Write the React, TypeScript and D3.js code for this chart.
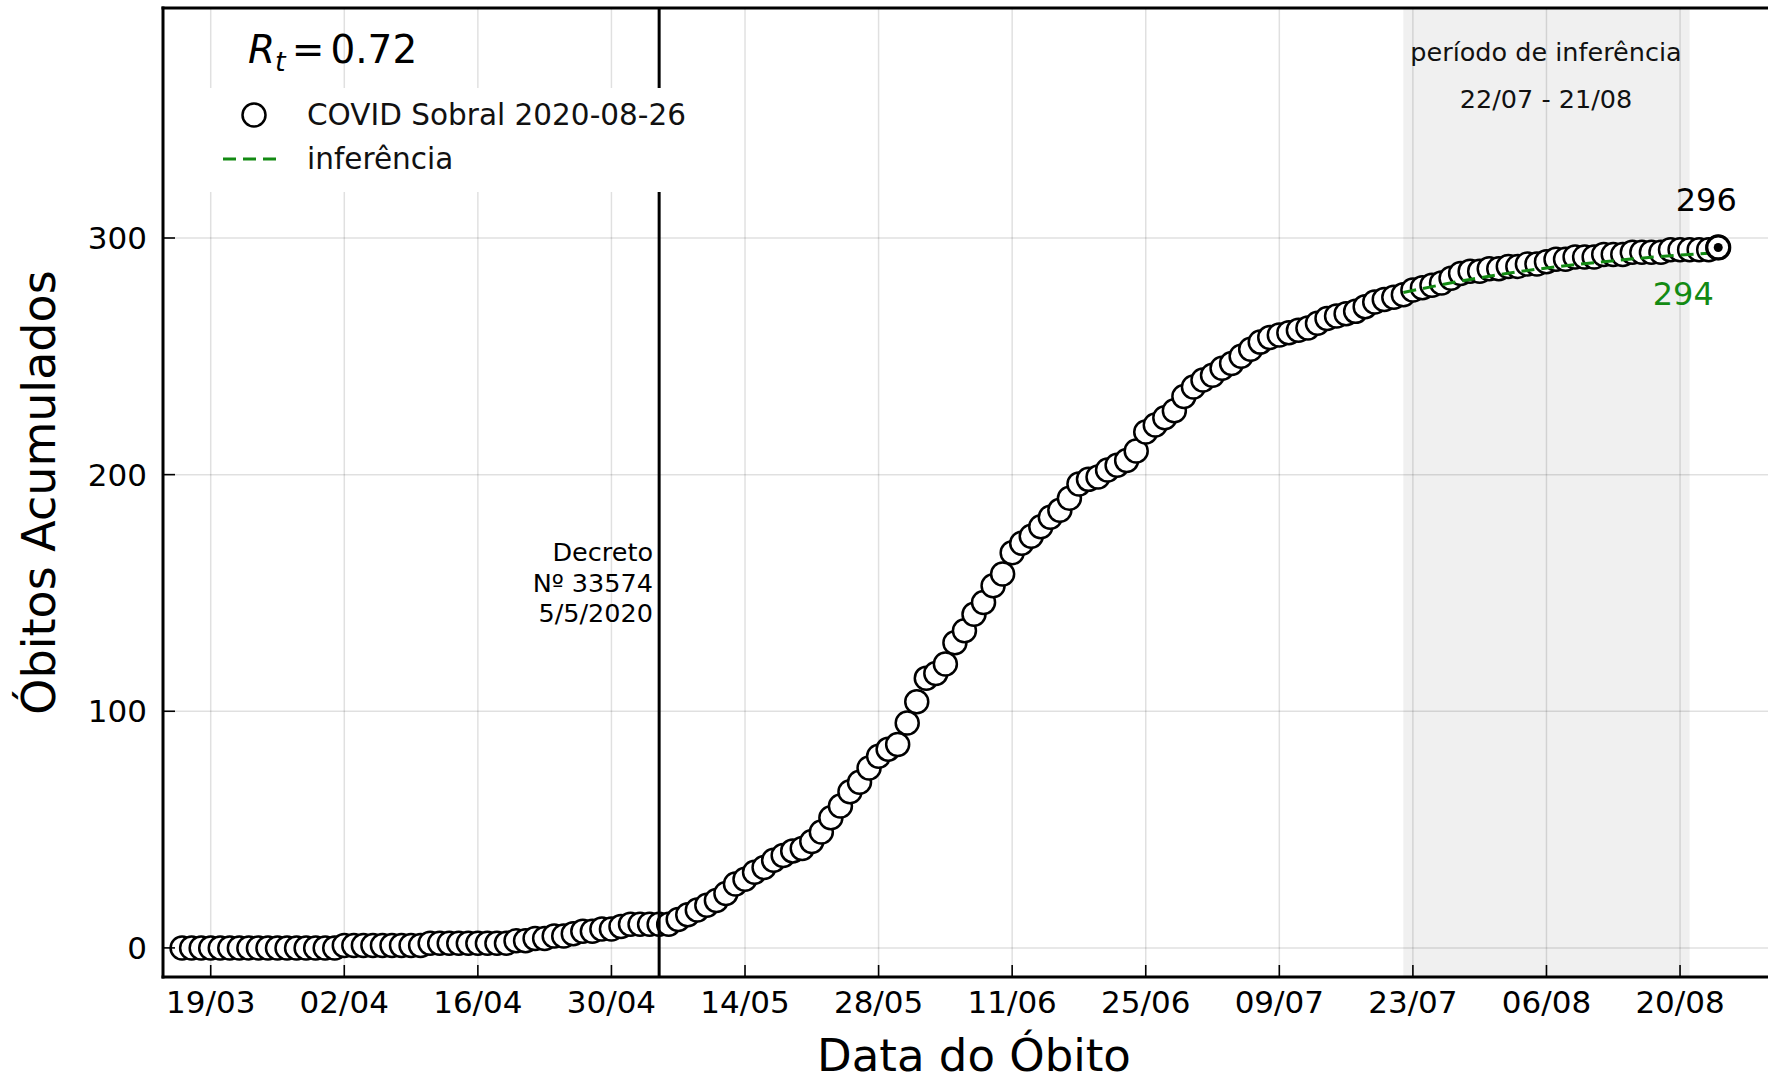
import React from "react";
import * as d3 from "d3";

// ---------- data ----------
const firstDate = new Date(2020, 2, 16); // 16/03/2020, one value per day
const cumulativeDeaths: number[] = [
  0, 0, 0, 0, 0, 0, 0, 0, 0, 0, 0, 0, 0, 0, 0, 0, 0,
  1, 1, 1, 1, 1, 1, 1, 1, 1,
  2, 2, 2, 2, 2, 2, 2, 2, 2,
  3, 3, 4, 4, 5, 5, 6, 7, 7, 8, 8, 9, 10, 10, 10, 10, 10,
  12, 14, 16, 18, 20, 23, 27, 29, 32, 34, 37, 39, 41, 42, 45, 49, 55, 60, 66, 70,
  76, 81, 84, 86, 95, 104, 114, 116, 120, 129, 134, 141, 146, 153, 158,
  167, 171, 174, 178, 182, 185, 190, 196, 198, 199, 202, 204, 206, 210, 218, 221,
  224, 227, 233, 237, 240, 242, 245, 247, 250, 253, 256, 258, 259, 260,
  261, 262, 264, 266, 267, 268, 269, 271, 273, 274, 275, 276, 278, 279, 280, 281,
  283, 285, 286, 286, 287, 287, 288, 288, 289, 289, 290, 291, 291, 292, 292, 292,
  293, 293, 293, 294, 294, 294, 294, 295, 295, 295, 295, 295, 296,
];

const inferenceDates: Date[] = [
  new Date(2020, 6, 22), new Date(2020, 6, 29), new Date(2020, 7, 5),
  new Date(2020, 7, 12), new Date(2020, 7, 19), new Date(2020, 7, 25),
];
const inferenceValues: number[] = [277, 282.5, 286.8, 290, 292.5, 294];

const xTickDates: Date[] = [
  new Date(2020, 2, 19), new Date(2020, 3, 2), new Date(2020, 3, 16), new Date(2020, 3, 30),
  new Date(2020, 4, 14), new Date(2020, 4, 28), new Date(2020, 5, 11), new Date(2020, 5, 25),
  new Date(2020, 6, 9), new Date(2020, 6, 23), new Date(2020, 7, 6), new Date(2020, 7, 20),
];
const yTicks: number[] = [0, 100, 200, 300];

const decreeDate = new Date(2020, 4, 5);
const decreeLines: string[] = ["Decreto", "Nº 33574", "5/5/2020"];
const inferenceStart = new Date(2020, 6, 22);
const inferenceEnd = new Date(2020, 7, 21);
const periodLines: string[] = ["período de inferência", "22/07 - 21/08"];
const seriesLabel = "COVID Sobral 2020-08-26";
const inferenceLabel = "inferência";
const rtValue = "0.72";
const lastObserved = 296;
const lastInferred = 294;

// ---------- layout ----------
const W = 1768;
const H = 1083;
const L = 163, T = 8, R = 1785, B = 977;
const FONT = "DejaVu Sans, Verdana, sans-serif";
const GREEN = "#138a13";

export default function App() {
  const x = d3.scaleTime().domain([new Date(2020, 2, 14), new Date(2020, 7, 31)]).range([L, R]);
  const y = d3.scaleLinear().domain([-12.3, 397.2]).range([B, T]);
  const fmt = d3.timeFormat("%d/%m");

  const points = cumulativeDeaths.map((v, i) => ({
    date: d3.timeDay.offset(firstDate, i),
    v,
  }));
  const last = points[points.length - 1];

  const inferLine = d3
    .line<number>()
    .x((_, i) => x(inferenceDates[i]))
    .y((v) => y(v))
    .curve(d3.curveMonotoneX)(inferenceValues) as string;

  const legend = { x0: 196, x1: 712, y0: 88, y1: 192 };
  const MR = 11.5;
  const MSW = 2.5;

  return (
    <svg
      width={W}
      height={H}
      viewBox={`0 0 ${W} ${H}`}
      style={{ position: "absolute", left: 0, top: 0, background: "#fff" }}
      fontFamily={FONT}
    >
      <defs>
        <clipPath id="plot">
          <rect x={L} y={T} width={R - L} height={B - T} />
        </clipPath>
      </defs>
      <rect x={0} y={0} width={W} height={H} fill="#fff" />
      <g clipPath="url(#plot)">
        {/* inference period shading */}
        <rect
          x={x(inferenceStart)}
          y={T}
          width={x(inferenceEnd) - x(inferenceStart)}
          height={B - T}
          fill="#f0f0f0"
        />
        {/* grid */}
        {xTickDates.map((d, i) => (
          <line key={"gx" + i} x1={x(d)} x2={x(d)} y1={T} y2={B} stroke="#000" strokeOpacity={0.12} strokeWidth={1.5} />
        ))}
        {yTicks.map((t) => (
          <line key={"gy" + t} x1={L} x2={R} y1={y(t)} y2={y(t)} stroke="#000" strokeOpacity={0.12} strokeWidth={1.5} />
        ))}
        {/* data */}
        {points.map((p, i) => (
          <circle key={i} cx={x(p.date)} cy={y(p.v)} r={MR} fill="#fff" stroke="#000" strokeWidth={MSW} />
        ))}
        {/* decree line */}
        <line x1={x(decreeDate)} x2={x(decreeDate)} y1={T} y2={B} stroke="#000" strokeWidth={3} />
        {/* inference */}
        <path d={inferLine} fill="none" stroke={GREEN} strokeWidth={3} strokeDasharray="13,7" />
        {/* last point */}
        <circle cx={x(last.date)} cy={y(last.v)} r={MR} fill="#fff" stroke="#000" strokeWidth={3.2} />
        <circle cx={x(last.date)} cy={y(last.v)} r={4.5} fill="#000" />
      </g>

      {/* annotations */}
      {decreeLines.map((s, i) => (
        <text key={"dc" + i} x={653} y={552 + i * 30.5} fontSize={25.5} textAnchor="end" dominantBaseline="central" fill="#000">
          {s}
        </text>
      ))}
      {periodLines.map((s, i) => (
        <text key={"pl" + i} x={1546} y={52 + i * 47} fontSize={25.5} textAnchor="middle" dominantBaseline="central" fill="#111">
          {s}
        </text>
      ))}
      <text x={x(last.date) - 12} y={200} fontSize={32} textAnchor="middle" dominantBaseline="central" fill="#000">
        {lastObserved}
      </text>
      <text x={x(last.date) - 35} y={294} fontSize={32} textAnchor="middle" dominantBaseline="central" fill={GREEN}>
        {lastInferred}
      </text>

      {/* Rt */}
      <text x={248} y={63} fontSize={39} fill="#000">
        <tspan fontStyle="italic">R</tspan>
        <tspan fontStyle="italic" fontSize={27} dy={8}>t</tspan>
        <tspan dy={-8} dx={6}>=</tspan>
        <tspan dx={6}>{rtValue}</tspan>
      </text>

      {/* legend */}
      <rect x={legend.x0} y={legend.y0} width={legend.x1 - legend.x0} height={legend.y1 - legend.y0} fill="#fff" />
      <circle cx={254} cy={115} r={MR} fill="#fff" stroke="#000" strokeWidth={MSW} />
      <text x={307} y={115} fontSize={29.5} dominantBaseline="central" fill="#111">{seriesLabel}</text>
      <line x1={223} x2={276} y1={159} y2={159} stroke={GREEN} strokeWidth={3} strokeDasharray="13,7" />
      <text x={307} y={159} fontSize={29.5} dominantBaseline="central" fill="#111">{inferenceLabel}</text>

      {/* spines */}
      <line x1={L} x2={L} y1={T - 1.5} y2={B + 1.5} stroke="#000" strokeWidth={3} />
      <line x1={L - 1.5} x2={W} y1={T} y2={T} stroke="#000" strokeWidth={3} />
      <line x1={L - 1.5} x2={W} y1={B} y2={B} stroke="#000" strokeWidth={3} />

      {/* x ticks */}
      {xTickDates.map((d, i) => (
        <g key={"xt" + i}>
          <line x1={x(d)} x2={x(d)} y1={B} y2={B - 12} stroke="#000" strokeWidth={1.6} />
          <text x={x(d)} y={1002} fontSize={31} textAnchor="middle" dominantBaseline="central" fill="#000">
            {fmt(d)}
          </text>
        </g>
      ))}
      {/* y ticks */}
      {yTicks.map((t) => (
        <g key={"yt" + t}>
          <line x1={L} x2={L + 12} y1={y(t)} y2={y(t)} stroke="#000" strokeWidth={1.6} />
          <text x={147} y={y(t)} fontSize={31} textAnchor="end" dominantBaseline="central" fill="#000">
            {t}
          </text>
        </g>
      ))}

      {/* axis labels */}
      <text x={974} y={1071} fontSize={45} textAnchor="middle" fill="#000">
        Data do Óbito
      </text>
      <text
        transform={`translate(39,${(T + B) / 2}) rotate(-90)`}
        fontSize={46}
        textAnchor="middle"
        dominantBaseline="central"
        fill="#000"
      >
        Óbitos Acumulados
      </text>
    </svg>
  );
}
